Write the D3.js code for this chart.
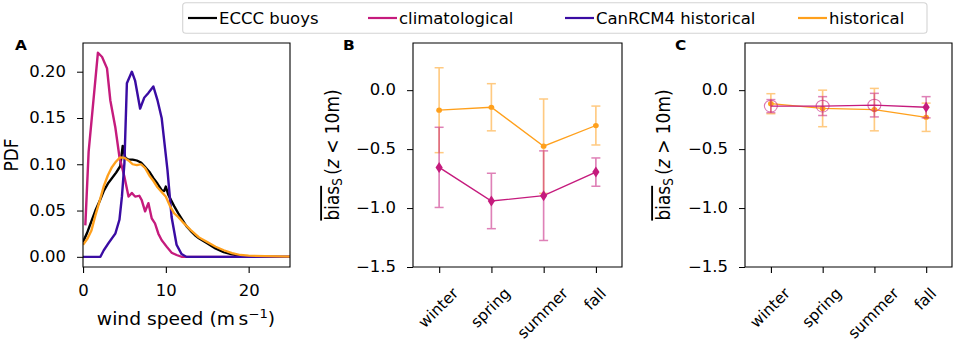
<!DOCTYPE html>
<html><head><meta charset="utf-8">
<script src="https://cdn.jsdelivr.net/npm/d3@7"></script>
<style>
body{margin:0;background:#fff;}
text{font-family:"DejaVu Sans",sans-serif;}
</style></head><body>
<svg id="chart" width="957" height="349"></svg>
<script>
// ---------------- data ----------------
const seriesNames = ["ECCC buoys", "climatological", "CanRCM4 historical", "historical"];
const seriesColors = ["#000000", "#c51b7d", "#3a0ca3", "#ffa01c"];

const buoySpeed = [0, 0.5, 1, 1.5, 2, 2.5, 3, 3.5, 4, 4.5, 4.8, 5.1, 5.5, 6, 6.5, 7, 7.5, 8, 8.5, 9, 9.5, 9.8, 10, 10.3, 11, 11.5, 12, 12.5, 13, 13.5, 14, 15, 16, 17, 18, 19, 20, 22, 25];
const buoyPdf   = [0.016, 0.026, 0.038, 0.05, 0.06, 0.071, 0.079, 0.085, 0.091, 0.098, 0.12, 0.107, 0.105, 0.105, 0.104, 0.102, 0.097, 0.092, 0.085, 0.079, 0.072, 0.071, 0.076, 0.067, 0.055, 0.047, 0.04, 0.033, 0.028, 0.0235, 0.02, 0.0145, 0.009, 0.005, 0.0025, 0.001, 0.0003, 0, 0];

const climSpeed = [0.28, 0.68, 1.8, 2.3, 2.9, 3.3, 3.9, 4.4, 5.0, 5.5, 5.9, 6.3, 6.8, 7.1, 7.5, 7.9, 8.3, 8.7, 9.1, 9.5, 10.1, 10.7, 11.3, 11.9, 25];
const climPdf   = [0.034, 0.1135, 0.2205, 0.216, 0.2035, 0.169, 0.14, 0.108, 0.0865, 0.065, 0.069, 0.065, 0.066, 0.061, 0.049, 0.058, 0.0415, 0.036, 0.025, 0.018, 0.011, 0.0045, 0.002, 0, 0];

const rcmSpeed = [0, 2.1, 2.5, 3.1, 3.9, 4.4, 4.7, 5.0, 5.3, 5.9, 6.3, 6.9, 7.4, 7.9, 8.5, 9.0, 9.5, 10.2, 10.7, 11.3, 11.9, 12.5, 25];
const rcmPdf   = [0, 0, 0.007, 0.015, 0.025, 0.04, 0.065, 0.101, 0.1875, 0.2, 0.19, 0.16, 0.172, 0.177, 0.184, 0.169, 0.15, 0.094, 0.043, 0.013, 0.003, 0, 0];

const histSpeed = [0, 0.5, 1, 1.5, 2, 2.5, 3, 3.5, 4, 4.5, 5, 5.5, 6, 6.5, 7, 7.5, 8, 8.5, 9, 9.5, 10, 10.5, 11, 11.5, 12, 13, 14, 15, 16, 17, 18, 19, 20, 22, 25];
const histPdf   = [0.013, 0.019, 0.028, 0.045, 0.06, 0.076, 0.088, 0.097, 0.103, 0.1075, 0.107, 0.104, 0.1, 0.099, 0.1, 0.096, 0.088, 0.082, 0.075, 0.07, 0.065, 0.055, 0.047, 0.043, 0.038, 0.029, 0.021, 0.016, 0.011, 0.007, 0.004, 0.002, 0.0012, 0.0008, 0.0003];

const xTicksA = [0, 10, 20];
const yTicksA = [0, 0.05, 0.10, 0.15, 0.20];
const yTicksBias = [-1.5, -1.0, -0.5, 0.0];
const seasons = ["winter", "spring", "summer", "fall"];

// panel B (z < 10 m)
const histB    = [-0.17, -0.145, -0.475, -0.30];
const histBErr = [0.36, 0.20, 0.40, 0.165];
const climB    = [-0.655, -0.94, -0.895, -0.695];
const climBErr = [0.34, 0.235, 0.38, 0.12];
const climBSig = [true, true, true, true];
// panel C (z > 10 m)
const histC    = [-0.115, -0.155, -0.165, -0.23];
const histCErr = [0.085, 0.155, 0.18, 0.12];
const climC    = [-0.135, -0.135, -0.127, -0.145];
const climCErr = [0.055, 0.08, 0.10, 0.09];
const climCSig = [false, false, false, true];

// ---------------- layout ----------------
const SX = 1.1;                 // horizontal stretch of the reference
const L = v => v / SX;          // final px -> local x
const TOP = 43, BOT = 267;
const FONT = "DejaVu Sans";

const svg = d3.select("#chart");
svg.append("rect").attr("width", 957).attr("height", 349).attr("fill", "#fff");
const root = svg.append("g").attr("transform", `scale(${SX},1)`);
const flat = svg.append("g");   // unstretched layer (rotated labels)

function frame(x0, x1) {
  root.append("rect").attr("x", L(x0)).attr("y", TOP)
    .attr("width", L(x1) - L(x0)).attr("height", BOT - TOP)
    .attr("fill", "none").attr("stroke", "#000").attr("stroke-width", 1);
}
function styleAxis(g) {
  g.select(".domain").remove();
  g.attr("font-size", 15).attr("font-family", FONT);
  g.selectAll("line").attr("stroke", "#000").attr("stroke-width", 1);
  g.selectAll("text").attr("fill", "#000");
}
function yAxis(scale, x0, ticks, fmt) {
  const ax = d3.axisLeft(scale).tickValues(ticks).tickFormat(fmt).tickSize(L(6)).tickPadding(L(11));
  const g = root.append("g").attr("transform", `translate(${L(x0)},0)`).call(ax);
  styleAxis(g);
}
function panelLetter(t, x) {
  root.append("text").attr("x", L(x)).attr("y", 50).attr("font-size", 14)
    .attr("font-weight", "bold").text(t);
}

// ---------------- Panel A ----------------
const xA = d3.scaleLinear().domain([0, 25]).range([L(83), L(290)]);
const yA = d3.scaleLinear().domain([-0.011, 0.231]).range([BOT, TOP]);

root.append("clipPath").attr("id", "clipA").append("rect")
  .attr("x", L(83)).attr("y", TOP).attr("width", L(290) - L(83)).attr("height", BOT - TOP);

const lineA = d3.line().x(d => xA(d[0])).y(d => yA(d[1]));
const curves = [
  d3.zip(buoySpeed, buoyPdf),
  d3.zip(climSpeed, climPdf),
  d3.zip(rcmSpeed, rcmPdf),
  d3.zip(histSpeed, histPdf)
];
const gA = root.append("g").attr("clip-path", "url(#clipA)");
curves.forEach((c, i) => {
  gA.append("path").datum(c).attr("d", lineA).attr("fill", "none")
    .attr("stroke", seriesColors[i]).attr("stroke-width", 2.2)
    .attr("stroke-linejoin", "round");
});
frame(83, 290);
yAxis(yA, 83, yTicksA, d3.format(".2f"));
{
  const ax = d3.axisBottom(xA).tickValues(xTicksA).tickFormat(d3.format("d")).tickSize(6).tickPadding(12);
  const g = root.append("g").attr("transform", `translate(0,${BOT})`).call(ax);
  styleAxis(g);
}
root.append("text").attr("transform", `translate(${L(18)},155) rotate(-90)`)
  .attr("text-anchor", "middle").attr("font-size", 17).text("PDF");
{
  const t = root.append("text").attr("x", L(186)).attr("y", 325)
    .attr("text-anchor", "middle").attr("font-size", 17);
  t.append("tspan").text("wind speed (m\u2009s");
  t.append("tspan").attr("font-size", 12).attr("dy", -7).text("\u22121");
  t.append("tspan").attr("dy", 7).text(")");
}
panelLetter("A", 15);

// ---------------- Panels B, C ----------------
const yBias = d3.scaleLinear().domain([-1.5, 0.4]).range([BOT, TOP]);

function biasPanel(x0, x1, hist, histErr, clim, climErr, climSig, labelRel, letter, letterX, labelX) {
  const xs = d3.scalePoint().domain(seasons).range([L(x0), L(x1)]).padding(0.5);
  const g = root.append("g");
  const capW = L(4.5);
  function series(vals, errs, color) {
    const eg = g.append("g").attr("stroke", color).attr("stroke-width", 1.5).attr("opacity", 0.55);
    seasons.forEach((s, i) => {
      const x = xs(s), lo = yBias(vals[i] - errs[i]), hi = yBias(vals[i] + errs[i]);
      eg.append("line").attr("x1", x).attr("x2", x).attr("y1", lo).attr("y2", hi);
      eg.append("line").attr("x1", x - capW).attr("x2", x + capW).attr("y1", lo).attr("y2", lo);
      eg.append("line").attr("x1", x - capW).attr("x2", x + capW).attr("y1", hi).attr("y2", hi);
    });
    const line = d3.line().x((d, i) => xs(seasons[i])).y(d => yBias(d));
    g.append("path").datum(vals).attr("d", line).attr("fill", "none")
      .attr("stroke", color).attr("stroke-width", 1.3);
  }
  // historical (orange)
  series(hist, histErr, seriesColors[3]);
  seasons.forEach((s, i) => {
    g.append("circle").attr("cx", xs(s)).attr("cy", yBias(hist[i])).attr("r", 2.6)
      .attr("fill", seriesColors[3]);
  });
  // climatological (magenta)
  series(clim, climErr, seriesColors[1]);
  seasons.forEach((s, i) => {
    const x = xs(s), y = yBias(clim[i]);
    if (climSig[i]) {
      g.append("path").attr("transform", `translate(${x},${y})`)
        .attr("d", `M0,-5.5L${L(3.6)},0L0,5.5L${-L(3.6)},0Z`).attr("fill", seriesColors[1]);
    } else {
      g.append("circle").attr("cx", x).attr("cy", y).attr("r", L(6.5))
        .attr("fill", "none").attr("stroke", seriesColors[1]).attr("stroke-width", 1)
        .attr("opacity", 0.6);
    }
  });
  frame(x0, x1);
  yAxis(yBias, x0, yTicksBias, d3.format(".1f"));
  const ax = d3.axisBottom(xs).tickSize(6).tickFormat("");
  const ga = root.append("g").attr("transform", `translate(0,${BOT})`).call(ax);
  styleAxis(ga);
  // rotated tick labels (bbox centred under tick, rotated 45 deg), unstretched layer
  const fs = 15.5, asc = 0.76 * fs, desc = 0.24 * fs, yTop = 286;
  seasons.forEach(s => {
    const t = flat.append("text").attr("font-size", fs).attr("text-anchor", "end").text(s);
    const w = t.node().getComputedTextLength();
    const axp = xs(s) * SX + 0.7071 * (w + asc - desc) / 2;
    const ayp = yTop + 0.7071 * asc;
    t.attr("transform", `translate(${axp},${ayp}) rotate(-45)`);
  });
  // y label
  const yl = root.append("text").attr("transform", `translate(${L(labelX)},155) rotate(-90)`)
    .attr("text-anchor", "middle").attr("font-size", 17);
  yl.append("tspan").attr("text-decoration", "overline").text("bias");
  yl.append("tspan").attr("font-size", 12).attr("dy", 3).text("S");
  yl.append("tspan").attr("dy", -3).text("\u2009(");
  yl.append("tspan").attr("font-style", "italic").text("z");
  yl.append("tspan").text(` ${labelRel} 10m)`);
  panelLetter(letter, letterX);
}
biasPanel(413, 622, histB, histBErr, climB, climBErr, climBSig, "<", "B", 343, 339);
biasPanel(745, 952, histC, histCErr, climC, climCErr, climCSig, ">", "C", 675, 670);

// ---------------- Legend ----------------
root.append("rect").attr("x", L(182.7)).attr("y", 2.7).attr("width", L(927) - L(182.7))
  .attr("height", 30.6).attr("rx", 3).attr("ry", 3)
  .attr("fill", "#fff").attr("stroke", "#d4d4d4").attr("stroke-width", 1);
const legX = [188, 368, 565, 798];
seriesNames.forEach((n, i) => {
  root.append("line").attr("x1", L(legX[i])).attr("x2", L(legX[i] + 29)).attr("y1", 18).attr("y2", 18)
    .attr("stroke", seriesColors[i]).attr("stroke-width", 2.2);
  root.append("text").attr("x", L(legX[i] + 31)).attr("y", 24.5).attr("font-size", 15).text(n);
});
</script>
</body></html>
